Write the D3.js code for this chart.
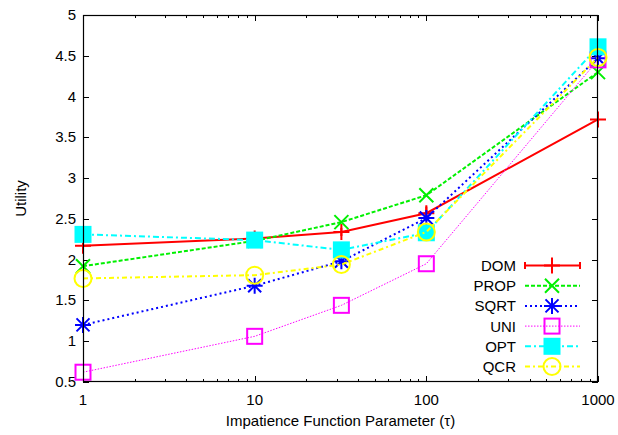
<!DOCTYPE html>
<html>
<head>
<meta charset="utf-8">
<script src="https://cdn.jsdelivr.net/npm/d3@7"></script>
<style>
  html, body { margin: 0; padding: 0; background: #fff; }
  svg { display: block; font-family: "Liberation Sans", Arial, Helvetica, sans-serif; }
</style>
</head>
<body>
<svg id="chart" width="618" height="435"></svg>
<script>
// Impatience parameter values (log axis)
const tauValues = [1, 10, 32, 100, 1000];

// Utility per scheme
const domValues  = [2.17, 2.26, 2.34, 2.57, 3.72];
const domErr     = [0.05, 0.08, 0.05, 0.08, 0.05];
const propValues = [1.92, 2.23, 2.46, 2.79, 4.30];
const sqrtValues = [1.20, 1.68, 1.98, 2.51, 4.47];
const uniValues  = [0.62, 1.06, 1.44, 1.95, 4.45];
const optValues  = [2.31, 2.24, 2.12, 2.33, 4.61];
const qcrValues  = [1.77, 1.81, 1.94, 2.34, 4.48];

const seriesNames = ["DOM", "PROP", "SQRT", "UNI", "OPT", "QCR"];

const xTickValues = [1, 10, 100, 1000];
const yTickValues = [0.5, 1, 1.5, 2, 2.5, 3, 3.5, 4, 4.5, 5];

const series = [
  { name: seriesNames[0], values: domValues,  err: domErr, color: "#ff0000", dash: null,      width: 2, marker: "plus" },
  { name: seriesNames[1], values: propValues, color: "#00f000", dash: "4,2",       width: 2, marker: "cross" },
  { name: seriesNames[2], values: sqrtValues, color: "#0000ff", dash: "2,3",       width: 2, marker: "star" },
  { name: seriesNames[3], values: uniValues,  color: "#ff00ff", dash: "1.5,1.5",   width: 1, marker: "square" },
  { name: seriesNames[4], values: optValues,  color: "#00ffff", dash: "6,3,2,3",   width: 2, marker: "filledSquare" },
  { name: seriesNames[5], values: qcrValues,  color: "#ffff00", dash: "5,3,2,3",   width: 2, marker: "circle" }
];

const svg = d3.select("#chart");
const margin = { left: 83, right: 20, top: 15, bottom: 53 };
const W = 618, H = 435;

const x = d3.scaleLog().domain([1, 1000]).range([margin.left, W - margin.right]);
const y = d3.scaleLinear().domain([0.5, 5]).range([H - margin.bottom, margin.top]);

const [x0, x1] = x.range();
const [y0, y1] = y.range();

// Minor ticks on the log axis: 2..9 within each decade
const minorTicks = [];
for (let d = 1; d < 1000; d *= 10) for (let k = 2; k <= 9; k++) minorTicks.push(d * k);

const axes = svg.append("g").attr("stroke", "#000").attr("stroke-width", 1);

// Major x ticks (bottom + top mirror)
xTickValues.forEach(v => {
  const px = Math.round(x(v)) + 0.5;
  axes.append("line").attr("x1", px).attr("x2", px).attr("y1", y0).attr("y2", y0 - 6);
  axes.append("line").attr("x1", px).attr("x2", px).attr("y1", y1).attr("y2", y1 + 6);
});
minorTicks.forEach(v => {
  const px = Math.round(x(v)) + 0.5;
  axes.append("line").attr("x1", px).attr("x2", px).attr("y1", y0).attr("y2", y0 - 3);
  axes.append("line").attr("x1", px).attr("x2", px).attr("y1", y1).attr("y2", y1 + 3);
});
// y ticks (left + right mirror)
yTickValues.forEach(v => {
  const py = Math.round(y(v)) + 0.5;
  axes.append("line").attr("x1", x0).attr("x2", x0 + 6).attr("y1", py).attr("y2", py);
  axes.append("line").attr("x1", x1).attr("x2", x1 - 6).attr("y1", py).attr("y2", py);
});

// Tick labels
const labels = svg.append("g").attr("font-size", 15).attr("fill", "#000");
xTickValues.forEach(v => {
  labels.append("text").attr("x", x(v)).attr("y", y0 + 23)
    .attr("text-anchor", "middle").text(d3.format("d")(v));
});
yTickValues.forEach(v => {
  labels.append("text").attr("x", x0 - 7).attr("y", y(v) + 5)
    .attr("text-anchor", "end").text(d3.format("")(v));
});

// Axis titles
labels.append("text").attr("x", (x0 + x1) / 2).attr("y", y0 + 44)
  .attr("text-anchor", "middle").text("Impatience Function Parameter (τ)");
labels.append("text")
  .attr("transform", `translate(26,${(y0 + y1) / 2}) rotate(-90)`)
  .attr("text-anchor", "middle").text("Utility");

// Marker drawing
function drawMarker(g, type, cx, cy, color) {
  const s = 8;
  if (type === "plus") {
    g.append("path").attr("d", `M${cx - s},${cy}H${cx + s}M${cx},${cy - s}V${cy + s}`)
      .attr("stroke", color).attr("stroke-width", 2).attr("fill", "none");
  } else if (type === "cross") {
    const c = 7;
    g.append("path").attr("d", `M${cx - c},${cy - c}L${cx + c},${cy + c}M${cx - c},${cy + c}L${cx + c},${cy - c}`)
      .attr("stroke", color).attr("stroke-width", 2).attr("fill", "none");
  } else if (type === "star") {
    const c = 6.5;
    g.append("path").attr("d",
      `M${cx - s},${cy}H${cx + s}M${cx},${cy - s}V${cy + s}` +
      `M${cx - c},${cy - c}L${cx + c},${cy + c}M${cx - c},${cy + c}L${cx + c},${cy - c}`)
      .attr("stroke", color).attr("stroke-width", 2).attr("fill", "none");
  } else if (type === "square") {
    g.append("rect").attr("x", cx - 7.5).attr("y", cy - 7.5).attr("width", 15).attr("height", 15)
      .attr("stroke", color).attr("stroke-width", 2).attr("fill", "none");
  } else if (type === "filledSquare") {
    g.append("rect").attr("x", cx - 8.5).attr("y", cy - 8.5).attr("width", 17).attr("height", 17)
      .attr("fill", color);
  } else if (type === "circle") {
    g.append("circle").attr("cx", cx).attr("cy", cy).attr("r", 8.5)
      .attr("stroke", color).attr("stroke-width", 2).attr("fill", "none");
  }
}

const line = d3.line().x(d => x(d[0])).y(d => y(d[1]));
const plot = svg.append("g");

series.forEach(s => {
  const pts = tauValues.map((t, i) => [t, s.values[i]]);
  plot.append("path").datum(pts).attr("d", line)
    .attr("fill", "none").attr("stroke", s.color).attr("stroke-width", s.width)
    .attr("stroke-dasharray", s.dash);
  if (s.err) {
    pts.forEach((p, i) => {
      const cx = x(p[0]);
      plot.append("path")
        .attr("d", `M${cx},${y(p[1] - s.err[i])}V${y(p[1] + s.err[i])}`)
        .attr("stroke", s.color).attr("stroke-width", 2);
    });
  }
  pts.forEach(p => drawMarker(plot, s.marker, x(p[0]), y(p[1]), s.color));
});

// Legend
const legend = svg.append("g").attr("font-size", 15);
series.forEach((s, i) => {
  const ly = 265.5 + i * 20.2;
  legend.append("text").attr("x", 516).attr("y", ly + 5.5).attr("text-anchor", "end").text(s.name);
  legend.append("line").attr("x1", 525).attr("x2", 580).attr("y1", ly).attr("y2", ly)
    .attr("stroke", s.color).attr("stroke-width", s.width).attr("stroke-dasharray", s.dash);
  if (s.err) {
    legend.append("path").attr("d", `M525,${ly - 3.5}V${ly + 3.5}M580,${ly - 3.5}V${ly + 3.5}`)
      .attr("stroke", s.color).attr("stroke-width", 2);
  }
  drawMarker(legend, s.marker, 552, ly, s.color);
});

// Frame on top
svg.append("rect").attr("x", x0 + 0.5).attr("y", y1 + 0.5)
  .attr("width", x1 - x0 - 1).attr("height", y0 - y1 - 1)
  .attr("fill", "none").attr("stroke", "#000").attr("stroke-width", 1.2);
</script>
</body>
</html>
